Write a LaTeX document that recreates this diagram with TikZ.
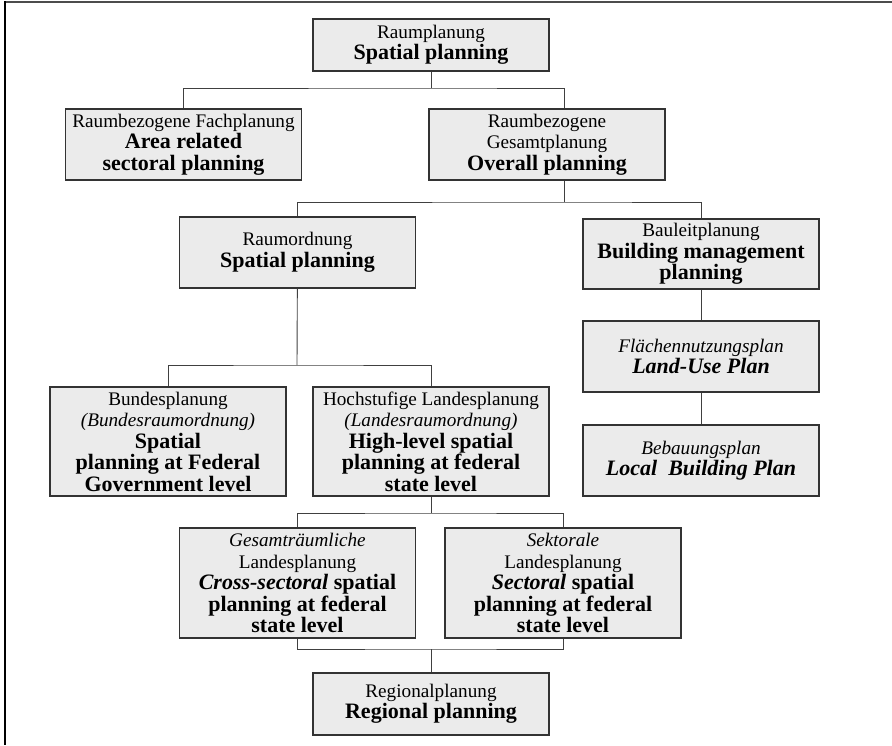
\documentclass[tikz,border=0pt]{standalone}
\usepackage{fontspec}
\setmainfont{Liberation Serif}
\newcommand{\entxt}[1]{{\fontsize{22}{21.5}\selectfont\bfseries #1}}
\tikzset{
  plan/.style={draw=black!80, line width=1.1pt, fill=black!8, minimum width=236pt,
    inner sep=0pt, align=center, font=\fontsize{19.2}{21.5}\selectfont},
  link/.style={draw=black!75, line width=0.9pt}
}

\begin{document}
\begin{tikzpicture}[x=1pt,y=-1pt]
\useasboundingbox (0,0) rectangle (892,745);
% frame
\draw[black!70, line width=2pt] (5,2) -- (892,2);
\draw[black, line width=1.6pt] (5,1) -- (5,745);

% boxes
\node[plan, minimum height=52pt] (raum) at (431,45) {Raumplanung\\ \entxt{Spatial planning}};
\node[plan, minimum height=71pt] (fach) at (183.5,144.5) {Raumbezogene Fachplanung\\ \entxt{Area related}\\ \entxt{sectoral planning}};
\node[plan, minimum height=71pt] (gesamt) at (547,144.5) {Raumbezogene\\ Gesamtplanung\\ \entxt{Overall planning}};
\node[plan, minimum height=71pt] (raumord) at (297.5,252.5) {Raumordnung\\ \entxt{Spatial planning}};
\node[plan, minimum height=70pt] (bauleit) at (701,254) {Bauleitplanung\\ \entxt{Building management}\\ \entxt{planning}};
\node[plan, minimum height=71pt] (flaechen) at (701,356.5) {\textit{Flächennutzungsplan}\\ \entxt{\textit{Land-Use Plan}}};
\node[plan, minimum height=71pt] (bebau) at (701,460.5) {\textit{Bebauungsplan}\\ \entxt{\textit{Local\ \ Building Plan}}};
\node[plan, minimum height=109pt] (bund) at (168,441.5) {Bundesplanung\\ \textit{(Bundesraumordnung)}\\ \entxt{Spatial}\\ \entxt{planning at Federal}\\ \entxt{Government level}};
\node[plan, minimum height=109pt] (hoch) at (431,441.5) {Hochstufige Landesplanung\\ \textit{(Landesraumordnung)}\\ \entxt{High-level spatial}\\ \entxt{planning at federal}\\ \entxt{state level}};
\node[plan, minimum height=110pt] (gesraeum) at (297.5,583) {\textit{Gesamträumliche}\\ Landesplanung\\ \entxt{\textit{Cross-sectoral} spatial}\\ \entxt{planning at federal}\\ \entxt{state level}};
\node[plan, minimum height=110pt] (sektor) at (563,583) {\textit{Sektorale}\\ Landesplanung\\ \entxt{\textit{Sectoral} spatial}\\ \entxt{planning at federal}\\ \entxt{state level}};
\node[plan, minimum height=62pt] (regional) at (431,704) {Regionalplanung\\ \entxt{Regional planning}};

% forks
\coordinate (f1) at (431,88);
\coordinate (f2) at (564,202);
\coordinate (f3) at (297,365);
\coordinate (f4) at (431,513);
\coordinate (f5) at (431,649);

\draw[link] (raum) -- (f1);
\draw[link] (fach.north) |- (f1) -| (gesamt.north -| f2);
\draw[link] (gesamt.south -| f2) -- (f2);
\draw[link] (raumord.north) |- (f2) -| (bauleit.north);
\draw[link] (bauleit) -- (flaechen);
\draw[link] (flaechen) -- (bebau);
\draw[link] (raumord) -- (f3);
\draw[link] (bund.north) |- (f3) -| (hoch.north);
\draw[link] (hoch) -- (f4);
\draw[link] (gesraeum.north) |- (f4) -| (sektor.north);
\draw[link] (gesraeum.south) |- (f5) -| (sektor.south);
\draw[link] (f5) -- (regional);
\end{tikzpicture}
\end{document}
